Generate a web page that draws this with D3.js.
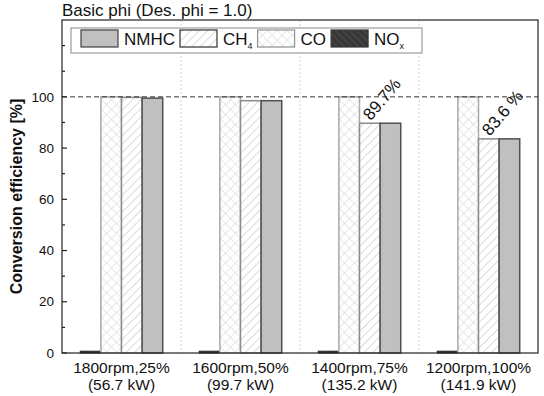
<!DOCTYPE html>
<html>
<head>
<meta charset="utf-8">
<script src="https://cdn.jsdelivr.net/npm/d3@7"></script>
<style>
  html, body { margin: 0; padding: 0; background: #fff; }
  text { font-family: "Liberation Sans", Arial, sans-serif; }
</style>
</head>
<body>
<svg id="chart" width="544" height="396"></svg>
<script>
// ---- data ----
const categoriesLine1 = ["1800rpm,25%", "1600rpm,50%", "1400rpm,75%", "1200rpm,100%"];
const categoriesLine2 = ["(56.7 kW)", "(99.7 kW)", "(135.2 kW)", "(141.9 kW)"];
const legendOrder = ["NMHC", "CH4", "CO", "NOx"];
const barOrder = ["NOx", "CO", "CH4", "NMHC"];
const nmhcValues = [99.5, 98.5, 89.7, 83.6];
const ch4Values  = [99.8, 98.5, 89.7, 83.6];
const coValues   = [100, 100, 100, 100];
const noxValues  = [0.7, 0.7, 0.7, 0.7];
const yTicksMajor = [0, 20, 40, 60, 80, 100];
const yTicksMinor = [10, 30, 50, 70, 90, 110, 120];
const refValue = 100;
const annotations = [
  { cat: 2, series: "CH4", value: 89.7, text: "89.7%" },
  { cat: 3, series: "CH4", value: 83.6, text: "83.6 %" }
];
const titleText = "Basic phi (Des. phi = 1.0)";
const yTitle = "Conversion efficiency [%]";

const seriesValues = { NMHC: nmhcValues, CH4: ch4Values, CO: coValues, NOx: noxValues };

// ---- layout ----
const svg = d3.select("#chart");
const M = { left: 62, right: 538, top: 20, bottom: 353 };

const x0 = d3.scaleBand().domain(d3.range(categoriesLine1.length)).range([M.left, M.right]).padding(0);
const groupW = x0.bandwidth();
const innerW = groupW * 0.693;
const x1 = d3.scaleBand().domain(barOrder).range([(groupW - innerW) / 2, (groupW + innerW) / 2]).padding(0);
const y = d3.scaleLinear().domain([0, 130]).range([M.bottom, M.top]);

// ---- patterns ----
const defs = svg.append("defs");
const pCH4 = defs.append("pattern").attr("id", "hatchCH4").attr("patternUnits", "userSpaceOnUse")
  .attr("width", 6).attr("height", 6).attr("patternTransform", "rotate(45)");
pCH4.append("rect").attr("width", 6).attr("height", 6).attr("fill", "#fff");
pCH4.append("line").attr("x1", 0).attr("y1", 0).attr("x2", 0).attr("y2", 6)
  .attr("stroke", "#c4c4c4").attr("stroke-width", 1.2);

const pCO = defs.append("pattern").attr("id", "hatchCO").attr("patternUnits", "userSpaceOnUse")
  .attr("width", 7).attr("height", 7).attr("patternTransform", "rotate(45)");
pCO.append("rect").attr("width", 7).attr("height", 7).attr("fill", "#fff");
pCO.append("line").attr("x1", 0).attr("y1", 0).attr("x2", 0).attr("y2", 7).attr("stroke", "#d2d2d2").attr("stroke-width", 1);
pCO.append("line").attr("x1", 0).attr("y1", 0).attr("x2", 7).attr("y2", 0).attr("stroke", "#d2d2d2").attr("stroke-width", 1);

const pNOx = defs.append("pattern").attr("id", "hatchNOx").attr("patternUnits", "userSpaceOnUse")
  .attr("width", 5).attr("height", 5).attr("patternTransform", "rotate(-45)");
pNOx.append("rect").attr("width", 5).attr("height", 5).attr("fill", "#383838");
pNOx.append("line").attr("x1", 0).attr("y1", 0).attr("x2", 0).attr("y2", 5).attr("stroke", "#5a5a5a").attr("stroke-width", 1.2);

const style = {
  NMHC: { fill: "#c0c0c0", stroke: "#505050", sw: 1.5, legStroke: "#404040" },
  CH4:  { fill: "url(#hatchCH4)", stroke: "#8c8c8c", sw: 1.5, legStroke: "#303030" },
  CO:   { fill: "url(#hatchCO)", stroke: "#a8a8a8", sw: 1.5, legStroke: "#909090" },
  NOx:  { fill: "url(#hatchNOx)", stroke: "#222", sw: 1, legStroke: "#383838" }
};

// ---- separators ----
svg.append("g").selectAll("line").data(d3.range(1, categoriesLine1.length)).join("line")
  .attr("x1", d => x0(d)).attr("x2", d => x0(d))
  .attr("y1", M.top).attr("y2", M.bottom)
  .attr("stroke", "#d0d0d0").attr("stroke-width", 1).attr("stroke-dasharray", "2,2");

// ---- bars ----
const groups = svg.append("g").selectAll("g").data(d3.range(categoriesLine1.length)).join("g")
  .attr("transform", i => `translate(${x0(i)},0)`);
groups.selectAll("rect").data(i => barOrder.map(s => ({ s, v: seriesValues[s][i] }))).join("rect")
  .attr("x", d => x1(d.s)).attr("width", x1.bandwidth())
  .attr("y", d => y(d.v)).attr("height", d => y(0) - y(d.v))
  .attr("fill", d => style[d.s].fill).attr("stroke", d => style[d.s].stroke)
  .attr("stroke-width", d => style[d.s].sw);

// ---- reference line ----
svg.append("line").attr("x1", M.left).attr("x2", M.right).attr("y1", y(refValue)).attr("y2", y(refValue))
  .attr("stroke", "#333").attr("stroke-width", 1).attr("stroke-dasharray", "5,3");

// ---- frame ----
svg.append("rect").attr("x", M.left).attr("y", M.top).attr("width", M.right - M.left).attr("height", M.bottom - M.top)
  .attr("fill", "none").attr("stroke", "#222").attr("stroke-width", 1.2);

// ---- y axis ----
const yAxisG = svg.append("g");
yAxisG.selectAll("line.maj").data(yTicksMajor).join("line").attr("class", "maj")
  .attr("x1", M.left).attr("x2", M.left + 5).attr("y1", d => y(d)).attr("y2", d => y(d))
  .attr("stroke", "#222").attr("stroke-width", 1.2);
yAxisG.selectAll("line.min").data(yTicksMinor).join("line").attr("class", "min")
  .attr("x1", M.left).attr("x2", M.left + 3).attr("y1", d => y(d)).attr("y2", d => y(d))
  .attr("stroke", "#222").attr("stroke-width", 1.2);
yAxisG.selectAll("text").data(yTicksMajor).join("text")
  .attr("x", M.left - 8).attr("y", d => y(d)).attr("dy", "0.35em")
  .attr("text-anchor", "end").attr("font-size", 13.5).attr("fill", "#111")
  .text(d => d);

svg.append("text").attr("transform", `translate(22,${(M.top + M.bottom) / 2 + 10}) rotate(-90)`)
  .attr("text-anchor", "middle").attr("font-size", 16).attr("font-weight", "bold").attr("fill", "#111")
  .text(yTitle);

// ---- x labels ----
const xl = svg.append("g").selectAll("text").data(d3.range(categoriesLine1.length)).join("text")
  .attr("text-anchor", "middle").attr("font-size", 15.5).attr("fill", "#111");
xl.append("tspan").attr("x", i => x0(i) + groupW / 2).attr("y", 373).text(i => categoriesLine1[i]);
xl.append("tspan").attr("x", i => x0(i) + groupW / 2).attr("y", 390).text(i => categoriesLine2[i]);

// ---- title ----
svg.append("text").attr("x", M.left).attr("y", 16).attr("font-size", 17).attr("fill", "#111").text(titleText);

// ---- annotations ----
svg.append("g").selectAll("text").data(annotations).join("text")
  .attr("transform", d => `translate(${x0(d.cat) + x1(d.series) + x1.bandwidth() * 0.55},${y(d.value) - 2}) rotate(-50)`)
  .attr("font-size", 17).attr("fill", "#111").text(d => d.text);

// ---- legend ----
const leg = svg.append("g");
const legBox = leg.append("rect").attr("fill", "#fff").attr("stroke", "#888").attr("stroke-width", 1);
let lx = 81;
const legY = 30, swW = 37, swH = 17;
legendOrder.forEach(s => {
  leg.append("rect").attr("x", lx).attr("y", legY).attr("width", swW).attr("height", swH)
    .attr("fill", style[s].fill).attr("stroke", style[s].legStroke).attr("stroke-width", 1.2);
  const t = leg.append("text").attr("x", lx + swW + 6).attr("y", legY + 15).attr("font-size", 17).attr("fill", "#111");
  if (s === "CH4") { t.append("tspan").text("CH"); t.append("tspan").attr("font-size", 9).attr("dy", 4).text("4"); }
  else if (s === "NOx") { t.append("tspan").text("NO"); t.append("tspan").attr("font-size", 9).attr("dy", 4).text("x"); }
  else t.text(s);
  lx = lx + swW + 6 + t.node().getComputedTextLength() + 5;
});
legBox.attr("x", 71).attr("y", 28).attr("width", 351).attr("height", 25);
</script>
</body>
</html>
